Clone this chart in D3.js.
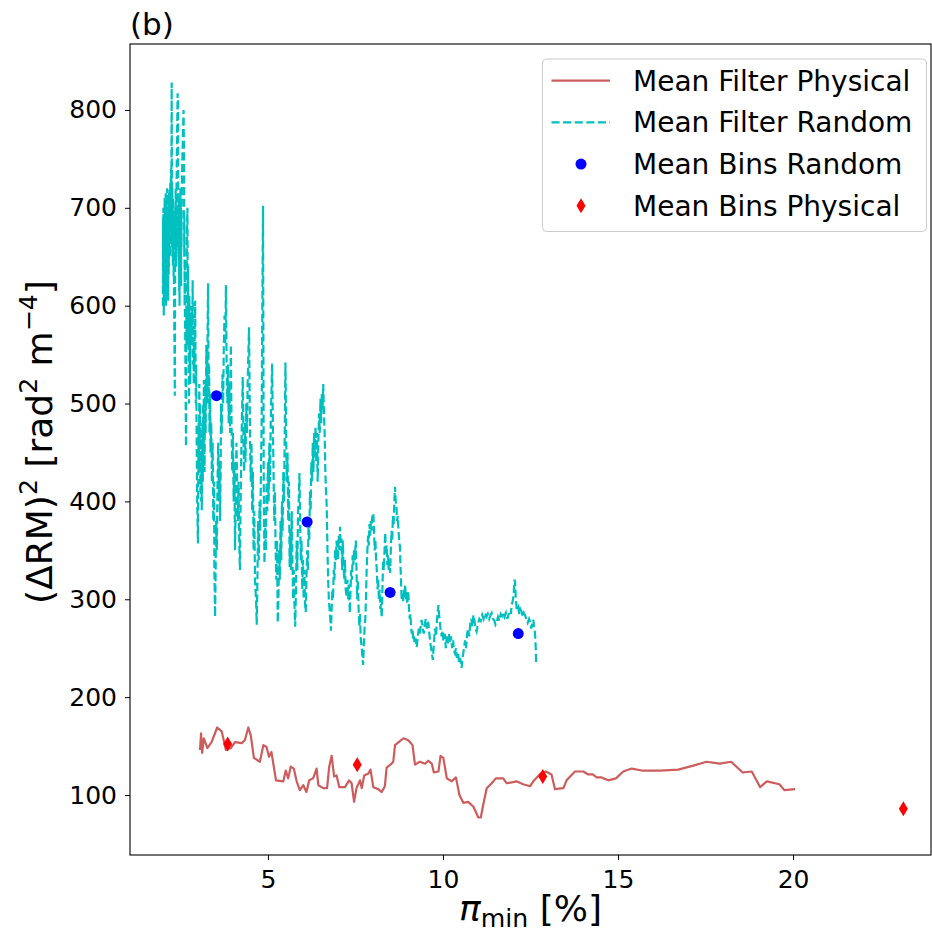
<!DOCTYPE html>
<html>
<head>
<meta charset="utf-8">
<script src="https://cdn.jsdelivr.net/npm/d3@7"></script>
<style>
  body { margin: 0; background: #fff; }
  svg { display: block; }
  text { font-family: "DejaVu Sans", sans-serif; fill: #000; }
</style>
</head>
<body>
<div id="chart"></div>
<script>
// ---- data ----
const xTicks = [5, 10, 15, 20];
const yTicks = [100, 200, 300, 400, 500, 600, 700, 800];

const legendLabels = ["Mean Filter Physical", "Mean Filter Random", "Mean Bins Random", "Mean Bins Physical"];

// Mean Bins Random (blue dots)
const binsRandom = [[3.53, 508], [6.12, 379], [8.49, 307], [12.15, 265]];

// Mean Bins Physical (red diamonds)
const binsPhysical = [[3.85, 152], [7.55, 131], [12.85, 119], [23.15, 86]];

// Mean Filter Physical (red solid line)
const filterPhysical = [
  [3.06, 146], [3.09, 163], [3.12, 143], [3.17, 158], [3.27, 148], [3.39, 154], [3.55, 169], [3.68, 165],
  [3.80, 146], [3.94, 148], [4.06, 154], [4.25, 153], [4.34, 156], [4.44, 169], [4.51, 161], [4.60, 138],
  [4.77, 134], [4.87, 151], [4.96, 149], [5.03, 139], [5.10, 144], [5.23, 115], [5.44, 114], [5.51, 125],
  [5.58, 117], [5.65, 129], [5.74, 127], [5.82, 114], [5.91, 105], [6.01, 110], [6.10, 103], [6.18, 115],
  [6.29, 117], [6.39, 127], [6.44, 110], [6.58, 107], [6.69, 107], [6.75, 129], [6.82, 140], [6.89, 119],
  [6.96, 120], [7.04, 108], [7.20, 108], [7.32, 115], [7.39, 112], [7.46, 93], [7.53, 107], [7.63, 115],
  [7.68, 107], [7.75, 120], [7.87, 122], [7.93, 126], [8.01, 108], [8.15, 106], [8.25, 103], [8.34, 109],
  [8.39, 128], [8.50, 131], [8.58, 134], [8.63, 151], [8.77, 155], [8.87, 158], [9.01, 156], [9.13, 151],
  [9.20, 131], [9.34, 134], [9.49, 132], [9.58, 135], [9.68, 132], [9.74, 123], [9.87, 124], [9.93, 140],
  [10.01, 138], [10.11, 117], [10.25, 114], [10.37, 118], [10.47, 100], [10.58, 92], [10.72, 93], [10.87, 88],
  [11.01, 77], [11.08, 77], [11.15, 90], [11.25, 107], [11.39, 112], [11.51, 117], [11.72, 117], [11.82, 112],
  [12.10, 114], [12.29, 111], [12.49, 109], [12.58, 114], [12.79, 122], [12.94, 124], [13.10, 121], [13.20, 106],
  [13.44, 107], [13.53, 115], [13.77, 124], [14.01, 124], [14.15, 121], [14.28, 121], [14.39, 118], [14.53, 118],
  [14.72, 115], [14.94, 117], [15.15, 124], [15.39, 127], [15.68, 125], [16.20, 125], [16.72, 126], [17.15, 130],
  [17.53, 134], [17.91, 132], [18.23, 134], [18.56, 123], [18.82, 124], [19.06, 108], [19.25, 114], [19.61, 111],
  [19.75, 105], [20.06, 106]
];

// Mean Filter Random (cyan dashed line)
const filterRandom = [
  [2.000, 600], [2.005, 690], [2.010, 620], [2.015, 700], [2.020, 640], [2.025, 590], [2.030, 680], [2.035, 610],
  [2.040, 660], [2.045, 600], [2.050, 710], [2.055, 630], [2.060, 700], [2.065, 620], [2.070, 690], [2.075, 640],
  [2.080, 715], [2.085, 600], [2.090, 690], [2.095, 650], [2.100, 705], [2.105, 620], [2.110, 680], [2.115, 650],
  [2.120, 720], [2.125, 640], [2.130, 700], [2.135, 610], [2.140, 695], [2.145, 660], [2.150, 605], [2.155, 690],
  [2.160, 680], [2.165, 630], [2.170, 715], [2.175, 640], [2.180, 700], [2.185, 660], [2.190, 720], [2.195, 670],
  [2.200, 700], [2.205, 650], [2.210, 725], [2.220, 690], [2.230, 740], [2.240, 700], [2.250, 828], [2.255, 760],
  [2.260, 700], [2.265, 660], [2.270, 720], [2.275, 650], [2.280, 700], [2.285, 640], [2.290, 710], [2.295, 660],
  [2.300, 690], [2.305, 630], [2.310, 680], [2.315, 620], [2.320, 600], [2.330, 560], [2.340, 508], [2.345, 580],
  [2.350, 640], [2.355, 700], [2.360, 660], [2.365, 720], [2.370, 680], [2.375, 640], [2.380, 700], [2.385, 660],
  [2.390, 720], [2.400, 760], [2.410, 790], [2.420, 817], [2.430, 810], [2.435, 720], [2.440, 690], [2.445, 650],
  [2.450, 710], [2.455, 640], [2.460, 690], [2.465, 615], [2.470, 670], [2.475, 600], [2.480, 680], [2.485, 630],
  [2.490, 700], [2.495, 650], [2.500, 720], [2.505, 680], [2.510, 640], [2.515, 700], [2.520, 620], [2.525, 690],
  [2.530, 660], [2.540, 720], [2.550, 740], [2.570, 770], [2.590, 800], [2.600, 760], [2.605, 700], [2.610, 650],
  [2.615, 690], [2.620, 600], [2.625, 640], [2.630, 590], [2.640, 560], [2.650, 500], [2.660, 456], [2.665, 520],
  [2.670, 600], [2.675, 560], [2.680, 640], [2.690, 680], [2.700, 700], [2.705, 650], [2.710, 600], [2.715, 640],
  [2.720, 580], [2.725, 620], [2.730, 560], [2.735, 600], [2.740, 520], [2.745, 500], [2.750, 560], [2.755, 610],
  [2.760, 580], [2.765, 540], [2.770, 590], [2.775, 560], [2.780, 520], [2.790, 575], [2.800, 600], [2.805, 570],
  [2.810, 590], [2.820, 560], [2.830, 600], [2.840, 580], [2.850, 626], [2.855, 580], [2.860, 540], [2.870, 575],
  [2.880, 520], [2.890, 560], [2.900, 540], [2.910, 580], [2.920, 605], [2.930, 560], [2.940, 500], [2.950, 540],
  [2.960, 480], [2.970, 440], [2.980, 400], [2.990, 380], [3.000, 357], [3.010, 420], [3.020, 480], [3.030, 430],
  [3.040, 520], [3.050, 460], [3.060, 500], [3.070, 410], [3.080, 470], [3.090, 400], [3.100, 450], [3.110, 391],
  [3.120, 440], [3.130, 480], [3.140, 420], [3.150, 500], [3.160, 450], [3.170, 524], [3.180, 470], [3.190, 430],
  [3.200, 520], [3.220, 470], [3.240, 560], [3.260, 500], [3.280, 590], [3.290, 623], [3.300, 560], [3.310, 500],
  [3.320, 540], [3.330, 470], [3.350, 510], [3.360, 450], [3.380, 480], [3.400, 420], [3.420, 460], [3.440, 380],
  [3.460, 420], [3.470, 330], [3.490, 282], [3.500, 310], [3.520, 380], [3.540, 350], [3.560, 420], [3.580, 460],
  [3.600, 400], [3.620, 440], [3.630, 380], [3.650, 430], [3.660, 500], [3.680, 470], [3.700, 530], [3.720, 500],
  [3.740, 560], [3.760, 590], [3.780, 560], [3.800, 621], [3.820, 540], [3.840, 500], [3.860, 540], [3.880, 480],
  [3.90, 520], [3.92, 470], [3.94, 560], [3.96, 480], [3.98, 430], [4.00, 470], [4.02, 400], [4.04, 440],
  [4.06, 350], [4.08, 400], [4.10, 460], [4.12, 420], [4.14, 380], [4.16, 420], [4.18, 360], [4.20, 330],
  [4.22, 400], [4.24, 450], [4.26, 490], [4.28, 527], [4.30, 470], [4.32, 430], [4.34, 480], [4.36, 440],
  [4.38, 500], [4.40, 470], [4.42, 520], [4.44, 550], [4.46, 578], [4.47, 540], [4.49, 460], [4.51, 420],
  [4.53, 460], [4.55, 390], [4.57, 430], [4.59, 350], [4.61, 390], [4.63, 320], [4.66, 300], [4.68, 274],
  [4.70, 320], [4.72, 380], [4.74, 340], [4.76, 400], [4.78, 370], [4.80, 430], [4.82, 480], [4.84, 600],
  [4.86, 702], [4.87, 560], [4.88, 420], [4.90, 337], [4.92, 380], [4.94, 350], [4.96, 420], [4.98, 390],
  [5.00, 440], [5.02, 400], [5.04, 460], [5.06, 420], [5.08, 480], [5.10, 510], [5.12, 541], [5.14, 480],
  [5.16, 430], [5.18, 380], [5.20, 410], [5.22, 350], [5.24, 320], [5.26, 360], [5.28, 276], [5.30, 300],
  [5.32, 350], [5.34, 320], [5.36, 380], [5.38, 340], [5.40, 400], [5.42, 370], [5.44, 430], [5.46, 400],
  [5.48, 470], [5.50, 542], [5.52, 470], [5.54, 420], [5.56, 450], [5.58, 380], [5.60, 420], [5.62, 333],
  [5.64, 370], [5.66, 330], [5.68, 390], [5.70, 340], [5.72, 300], [5.74, 330], [5.76, 290], [5.78, 272],
  [5.80, 310], [5.82, 360], [5.84, 330], [5.86, 390], [5.88, 400], [5.90, 429], [5.92, 380], [5.94, 340],
  [5.96, 360], [5.98, 310], [6.00, 340], [6.02, 300], [6.04, 330], [6.06, 295], [6.08, 287], [6.10, 320],
  [6.12, 350], [6.14, 330], [6.16, 380], [6.18, 360], [6.20, 410], [6.22, 390], [6.24, 440], [6.26, 420],
  [6.28, 460], [6.30, 430], [6.32, 470], [6.34, 445], [6.36, 476], [6.38, 440], [6.40, 470], [6.42, 420],
  [6.44, 460], [6.46, 490], [6.48, 470], [6.50, 505], [6.52, 480], [6.54, 510], [6.56, 495], [6.58, 520],
  [6.60, 490], [6.62, 470], [6.64, 430], [6.66, 410], [6.68, 394], [6.70, 350], [6.72, 320], [6.74, 300],
  [6.76, 290], [6.78, 280], [6.80, 268], [6.82, 290], [6.84, 310], [6.86, 300], [6.88, 330], [6.90, 320],
  [6.92, 350], [6.94, 340], [6.96, 360], [6.98, 345], [7.00, 340], [7.02, 365], [7.04, 350], [7.06, 374],
  [7.08, 350], [7.10, 362], [7.12, 330], [7.14, 360], [7.16, 335], [7.18, 320], [7.20, 340], [7.22, 310],
  [7.25, 302], [7.27, 320], [7.29, 300], [7.31, 315], [7.34, 286], [7.36, 310], [7.38, 330], [7.40, 320],
  [7.42, 345], [7.44, 335], [7.46, 350], [7.48, 340], [7.51, 360], [7.53, 330], [7.55, 300], [7.57, 320],
  [7.59, 290], [7.61, 272], [7.63, 285], [7.65, 260], [7.68, 250], [7.70, 240], [7.72, 233], [7.74, 255],
  [7.76, 270], [7.78, 280], [7.80, 300], [7.82, 330], [7.84, 350], [7.86, 365], [7.88, 355], [7.90, 377],
  [7.92, 365], [7.94, 380], [7.96, 370], [7.98, 385], [8.01, 388], [8.03, 370], [8.05, 350], [8.07, 360],
  [8.09, 340], [8.11, 330], [8.13, 310], [8.15, 320], [8.17, 300], [8.19, 310], [8.21, 290], [8.23, 295],
  [8.25, 281], [8.27, 310], [8.29, 340], [8.31, 330], [8.33, 350], [8.35, 368], [8.37, 345], [8.39, 355],
  [8.41, 335], [8.43, 345], [8.45, 330], [8.47, 340], [8.49, 327], [8.51, 350], [8.53, 370], [8.55, 360],
  [8.57, 385], [8.59, 375], [8.61, 400], [8.63, 415], [8.65, 400], [8.67, 395], [8.69, 380], [8.71, 385],
  [8.73, 370], [8.75, 360], [8.77, 354], [8.79, 330], [8.82, 299], [8.84, 305], [8.86, 298], [8.88, 310],
  [8.90, 302], [8.92, 315], [8.94, 300], [8.96, 308], [8.98, 295], [9.01, 308], [9.03, 290], [9.05, 280],
  [9.07, 285], [9.09, 270], [9.11, 265], [9.13, 270], [9.15, 258], [9.17, 262], [9.19, 255], [9.22, 260],
  [9.25, 251], [9.28, 262], [9.31, 270], [9.34, 265], [9.37, 275], [9.39, 279], [9.42, 270], [9.45, 265],
  [9.48, 275], [9.51, 280], [9.54, 270], [9.58, 277], [9.61, 265], [9.64, 255], [9.67, 248], [9.71, 238],
  [9.74, 255], [9.77, 270], [9.80, 262], [9.83, 280], [9.87, 294], [9.90, 280], [9.93, 270], [9.96, 262],
  [9.99, 268], [10.01, 258], [10.05, 265], [10.08, 250], [10.11, 262], [10.14, 255], [10.17, 265], [10.20, 255],
  [10.23, 262], [10.26, 250], [10.29, 258], [10.31, 248], [10.34, 245], [10.37, 250], [10.40, 240], [10.43, 245],
  [10.46, 235], [10.49, 240], [10.53, 230], [10.56, 240], [10.60, 250], [10.63, 258], [10.66, 250], [10.69, 265],
  [10.72, 270], [10.75, 262], [10.78, 275], [10.81, 280], [10.84, 272], [10.87, 284], [10.90, 278], [10.93, 270],
  [10.96, 267], [11.00, 275], [11.04, 280], [11.08, 278], [11.12, 284], [11.16, 280], [11.20, 286], [11.24, 282],
  [11.28, 285], [11.32, 280], [11.36, 284], [11.39, 286], [11.43, 280], [11.47, 278], [11.50, 274], [11.53, 276],
  [11.57, 282], [11.61, 278], [11.65, 285], [11.69, 283], [11.72, 287], [11.76, 282], [11.80, 286], [11.84, 280],
  [11.87, 284], [11.91, 288], [11.94, 285], [11.96, 294], [11.99, 298], [12.02, 305], [12.04, 320], [12.06, 318],
  [12.08, 300], [12.11, 289], [12.15, 292], [12.18, 285], [12.21, 290], [12.25, 287], [12.28, 282], [12.31, 286],
  [12.34, 284], [12.38, 280], [12.42, 276], [12.46, 280], [12.49, 277], [12.52, 270], [12.55, 275], [12.58, 279],
  [12.60, 272], [12.63, 265], [12.65, 250], [12.66, 236]
];

// ---- layout ----
const width = 932;
const height = 935;
const margin = {top: 44, right: 1, bottom: 80, left: 130};
const innerWidth = width - margin.left - margin.right;
const innerHeight = height - margin.top - margin.bottom;

const cyan = "#00bfbf";
const indianRed = "#cd5c5c";

const svg = d3.select("#chart")
  .append("svg")
    .attr("width", width)
    .attr("height", height)
    .attr("viewBox", `0 0 ${width} ${height}`);

const inner = svg.append("g")
  .attr("transform", `translate(${margin.left}, ${margin.top})`);

inner.append("clipPath")
  .attr("id", "plot-clip")
  .append("rect")
    .attr("width", innerWidth)
    .attr("height", innerHeight);

const xScale = d3.scaleLinear()
  .domain([1.06, 23.94])
  .range([0, innerWidth]);

const yScale = d3.scaleLinear()
  .domain([38.7, 867.4])
  .range([innerHeight, 0]);

const line = d3.line()
  .x(d => xScale(d[0]))
  .y(d => yScale(d[1]));

const plot = inner.append("g").attr("clip-path", "url(#plot-clip)");

// Mean Filter Physical
plot.append("path")
  .datum(filterPhysical)
  .attr("d", line)
  .attr("fill", "none")
  .attr("stroke", indianRed)
  .attr("stroke-width", 2.2)
  .attr("stroke-linejoin", "round");

// Mean Filter Random
plot.append("path")
  .datum(filterRandom)
  .attr("d", line)
  .attr("fill", "none")
  .attr("stroke", cyan)
  .attr("stroke-width", 2.2)
  .attr("stroke-dasharray", "8.1,3.5");

// Mean Bins Random
plot.append("g")
  .selectAll("circle")
  .data(binsRandom)
  .join("circle")
    .attr("cx", d => xScale(d[0]))
    .attr("cy", d => yScale(d[1]))
    .attr("r", 5.5)
    .attr("fill", "#0000ff");

// Mean Bins Physical (thin diamond)
const diamond = "M0,-7.5L4.5,0L0,7.5L-4.5,0Z";
plot.append("g")
  .selectAll("path")
  .data(binsPhysical)
  .join("path")
    .attr("d", diamond)
    .attr("transform", d => `translate(${xScale(d[0])}, ${yScale(d[1])})`)
    .attr("fill", "#ff0000");

// Axes
const xAxis = inner.append("g")
  .attr("transform", `translate(0, ${innerHeight})`)
  .call(d3.axisBottom(xScale).tickValues(xTicks).tickSize(5).tickPadding(10).tickFormat(d3.format("d")));
xAxis.select(".domain").remove();
xAxis.selectAll("text").attr("font-size", 25).attr("font-family", "DejaVu Sans");

const yAxis = inner.append("g")
  .call(d3.axisLeft(yScale).tickValues(yTicks).tickSize(5).tickPadding(8).tickFormat(d3.format("d")));
yAxis.select(".domain").remove();
yAxis.selectAll("text").attr("font-size", 25).attr("font-family", "DejaVu Sans");

// Frame
inner.append("rect")
  .attr("width", innerWidth)
  .attr("height", innerHeight)
  .attr("fill", "none")
  .attr("stroke", "#000")
  .attr("stroke-width", 1.1);

// Axis labels
const xLabel = svg.append("text")
  .attr("x", margin.left + innerWidth / 2)
  .attr("y", 921)
  .attr("text-anchor", "middle")
  .attr("font-size", 36);
xLabel.append("tspan").attr("font-style", "italic").text("π");
xLabel.append("tspan").attr("font-size", "0.7em").attr("dy", "0.22em").text("min");
xLabel.append("tspan").attr("dy", "-0.154em").text(" [%]");

const yLabel = svg.append("text")
  .attr("transform", `translate(52, 442) rotate(-90)`)
  .attr("text-anchor", "middle")
  .attr("font-size", 36);
yLabel.append("tspan").text("(ΔRM)");
yLabel.append("tspan").attr("font-size", "0.7em").attr("dy", "-0.6em").text("2");
yLabel.append("tspan").attr("dy", "0.42em").text(" [rad");
yLabel.append("tspan").attr("font-size", "0.7em").attr("dy", "-0.6em").text("2");
yLabel.append("tspan").attr("dy", "0.42em").text(" m");
yLabel.append("tspan").attr("font-size", "0.7em").attr("dy", "-0.6em").text("−4");
yLabel.append("tspan").attr("dy", "0.42em").text("]");

// Panel tag
svg.append("text")
  .attr("x", margin.left)
  .attr("y", 35)
  .attr("font-size", 31)
  .text("(b)");

// Legend
const legend = svg.append("g").attr("transform", "translate(542.5, 59)");
legend.append("rect")
  .attr("width", 384)
  .attr("height", 172.5)
  .attr("rx", 4)
  .attr("fill", "#fff")
  .attr("fill-opacity", 0.8)
  .attr("stroke", "#cccccc")
  .attr("stroke-width", 1);

const rowY = d3.scaleLinear().domain([0, 3]).range([21.7, 146.7]);
const rows = legend.selectAll("g.row")
  .data(legendLabels)
  .join("g")
    .attr("class", "row")
    .attr("transform", (d, i) => `translate(0, ${rowY(i)})`);

rows.append("text")
  .attr("x", 90.5)
  .attr("dy", "0.35em")
  .attr("font-size", 28)
  .text(d => d);

rows.filter((d, i) => i === 0).append("line")
  .attr("x1", 9).attr("x2", 67.5)
  .attr("stroke", indianRed).attr("stroke-width", 2.2);
rows.filter((d, i) => i === 1).append("line")
  .attr("x1", 9).attr("x2", 67.5)
  .attr("stroke", cyan).attr("stroke-width", 2.2)
  .attr("stroke-dasharray", "8.1,3.5");
rows.filter((d, i) => i === 2).append("circle")
  .attr("cx", 38.5).attr("r", 5.5).attr("fill", "#0000ff");
rows.filter((d, i) => i === 3).append("path")
  .attr("d", diamond)
  .attr("transform", "translate(38.5, 0)")
  .attr("fill", "#ff0000");
</script>
</body>
</html>
